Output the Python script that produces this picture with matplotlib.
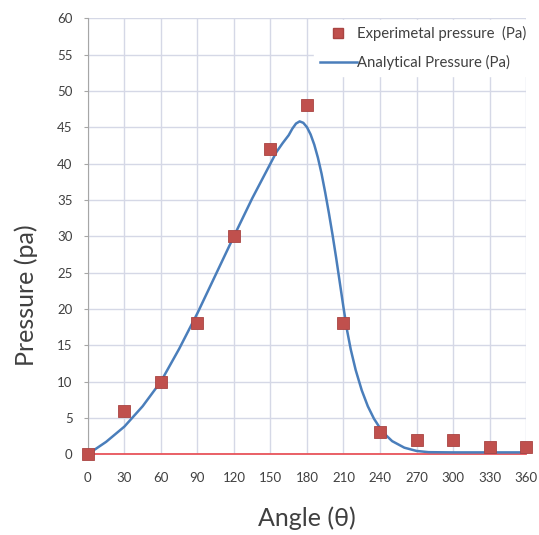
import matplotlib
matplotlib.use("Agg")
import matplotlib.pyplot as plt
from matplotlib.lines import Line2D

# experimental points
exp_angle = [0, 30, 60, 90, 120, 150, 180, 210, 240, 270, 300, 330, 360]
exp_pressure = [0, 6, 10, 18, 30, 42, 48, 18, 3, 2, 2, 1, 1]

# analytical curve
ana_angle = [0, 15, 30, 45, 60, 75, 90, 105, 120, 135, 150, 155, 160, 165,
             168, 171, 174, 177, 180, 183, 186, 189, 192, 195, 198, 201, 204,
             207, 210, 213, 216, 220, 225, 230, 235, 240, 245, 250, 260, 270,
             280, 300, 330, 360]
ana_pressure = [0, 1.7, 3.8, 6.6, 10, 14.5, 19.4, 24.7, 30, 35.2, 40, 41.6,
                42.8, 43.9, 44.8, 45.5, 45.8, 45.6, 45.0, 44.0, 42.6, 40.8,
                38.6, 36.0, 33.2, 30.2, 27.0, 23.6, 20.2, 17.0, 14.4, 11.6,
                8.8, 6.6, 4.9, 3.6, 2.6, 1.8, 0.9, 0.45, 0.28, 0.25, 0.25,
                0.25]

x_ticks = list(range(0, 361, 30))
y_ticks = list(range(0, 61, 5))

plt.rcParams["font.family"] = ["Lato", "DejaVu Sans"]

fig = plt.figure(figsize=(5.39, 5.35), dpi=100)
ax = fig.add_axes([0.163, 0.151, 0.813, 0.815])

grid_col = "#d5d8e6"
ax.set_xlim(0, 360)
ax.set_ylim(0, 60)
ax.set_xticks(x_ticks)
ax.set_yticks(y_ticks)
ax.grid(True, color=grid_col, linewidth=1.0)
ax.set_axisbelow(True)

for side in ["top", "right"]:
    ax.spines[side].set_visible(False)
ax.spines["left"].set_color("#a6a6a6")
ax.spines["bottom"].set_color("#e8545a")
ax.spines["bottom"].set_linewidth(1.3)

ax.tick_params(axis="y", length=3, color="#a6a6a6", labelsize=9.5,
               labelcolor="#404040", pad=8)
ax.tick_params(axis="x", length=0, labelsize=9.5, labelcolor="#404040", pad=13)

ax.plot(ana_angle, ana_pressure, color="#4a7ebb", linewidth=1.8, zorder=3,
        clip_on=False)
ax.plot(exp_angle, exp_pressure, linestyle="none", marker="s", markersize=8.5,
        markerfacecolor="#c0504d", markeredgecolor="#a94442",
        markeredgewidth=0.6, zorder=4, clip_on=False)

ax.set_xlabel("Angle (\u03b8)", fontsize=18, color="#404040")
ax.set_ylabel("Pressure (pa)", fontsize=18, color="#404040")
ax.xaxis.set_label_coords(0.5, -0.12)
ax.yaxis.set_label_coords(-0.114, 0.365)

handles = [
    Line2D([], [], linestyle="none", marker="s", markersize=7,
           markerfacecolor="#c0504d", markeredgecolor="#a94442"),
    Line2D([], [], color="#4a7ebb", linewidth=1.8),
]
leg = ax.legend(handles, ["Experimetal pressure  (Pa)", "Analytical Pressure (Pa)"],
                loc="upper right", bbox_to_anchor=(1.015, 0.995), fontsize=10.7,
                frameon=True, framealpha=1, facecolor="white",
                edgecolor="white", handlelength=2.5, handletextpad=0.05,
                labelspacing=0.9, borderpad=0.4, borderaxespad=0.0,
                fancybox=False)
for t in leg.get_texts():
    t.set_color("#404040")

fig.savefig("out.png", dpi=100, facecolor="white")
